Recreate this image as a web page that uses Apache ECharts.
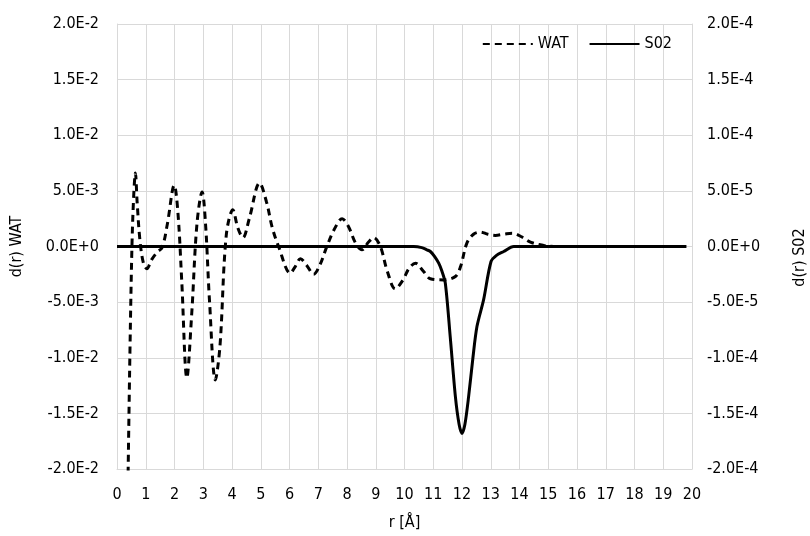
<!DOCTYPE html>
<html>
<head>
<meta charset="utf-8">
<script src="https://cdn.jsdelivr.net/npm/echarts@6/dist/echarts.min.js"></script>
<style>
html,body{margin:0;padding:0;background:#fff;}
#chart{width:810px;height:536px;}
</style>
</head>
<body>
<div id="chart"></div>
<script>
// r [Å] and d(r) for WAT (left axis)
const watR = [0.38, 0.45, 0.52, 0.58, 0.64, 0.70, 0.80, 0.92, 1.04, 1.20, 1.40, 1.57, 1.75, 1.99, 2.12, 2.25, 2.43, 2.60, 2.78, 2.96, 3.08, 3.22, 3.42, 3.58, 3.80, 4.03, 4.20, 4.38, 4.60, 4.96, 5.20, 5.40, 5.62, 6.03, 6.20, 6.38, 6.60, 6.84, 7.05, 7.30, 7.55, 7.83, 8.05, 8.30, 8.52, 8.75, 8.93, 9.16, 9.40, 9.68, 9.95, 10.15, 10.38, 10.65, 10.90, 11.36, 11.77, 11.95, 12.17, 12.40, 12.64, 12.90, 13.16, 13.45, 13.74, 14.05, 14.38, 14.84, 15.20, 16.0, 17.0, 18.0, 19.0, 19.8];
const watD = [-0.0215, -0.0095, 0.0, 0.0045, 0.0066, 0.0040, 0.0005, -0.0015, -0.0020, -0.0012, -0.0005, -0.0001, 0.0020, 0.0055, 0.0030, -0.0030, -0.0118, -0.0060, 0.0020, 0.0049, 0.0020, -0.0050, -0.0120, -0.0090, 0.0010, 0.0033, 0.0017, 0.0008, 0.0025, 0.0057, 0.0040, 0.0017, 0.0, -0.0024, -0.0018, -0.0011, -0.0017, -0.0025, -0.0017, 0.0, 0.0015, 0.0025, 0.0018, 0.0003, -0.0003, 0.0004, 0.0008, 0.0, -0.0022, -0.0038, -0.0030, -0.0020, -0.0015, -0.0022, -0.0029, -0.0030, -0.0027, -0.0018, 0.0003, 0.0011, 0.0013, 0.0011, 0.0010, 0.0011, 0.0012, 0.0009, 0.0004, 0.0001, 0.0, 0.0, 0.0, 0.0, 0.0, 0.0];
// r [Å] and d(r) for S02 (right axis)
const so2R = [0.0, 2.0, 4.0, 6.0, 8.0, 10.0, 10.32, 10.60, 10.78, 10.90, 11.05, 11.19, 11.30, 11.42, 11.59, 11.77, 11.90, 12.00, 12.10, 12.23, 12.38, 12.52, 12.75, 13.01, 13.20, 13.45, 13.80, 15.0, 17.0, 19.8];
const so2D = [0, 0, 0, 0, 0, 0, 0, -0.000001, -0.000003, -0.0000045, -0.000009, -0.000015, -0.000022, -0.000033, -0.000081, -0.000135, -0.000160, -0.000168, -0.000160, -0.000135, -0.000100, -0.000072, -0.000048, -0.0000135, -0.000008, -0.0000045, 0, 0, 0, 0];
// axis ticks
const xTicks = {min: 0, max: 20, interval: 1};
const leftTicks = {min: -0.02, max: 0.02, interval: 0.005};
const rightTicks = {min: -0.0002, max: 0.0002, interval: 0.00005};

const FONT = "'Liberation Sans Narrow', 'DejaVu Sans Condensed', 'Roboto', sans-serif";

function sci(v) {
  if (Math.abs(v) < 1e-12) return '0.0E+0';
  let e = Math.floor(Math.log10(Math.abs(v)) + 1e-9);
  let m = v / Math.pow(10, e);
  return m.toFixed(1) + 'E' + (e >= 0 ? '+' + e : e);
}

const chart = echarts.init(document.getElementById('chart'));
const axisLabelStyle = {color: '#000', fontFamily: FONT, fontSize: 16};
chart.setOption({
  animation: false,
  textStyle: {fontFamily: FONT},
  grid: {left: 117, right: 118, top: 24, bottom: 67, containLabel: false, outerBoundsMode: 'none'},
  legend: {
    top: 31, right: 133,
    itemWidth: 50, itemHeight: 12, itemGap: 20,
    itemStyle: {opacity: 0},
    textStyle: {color: '#000', fontFamily: FONT, fontSize: 16},
    data: ['WAT', 'S02']
  },
  xAxis: {
    type: 'value', min: xTicks.min, max: xTicks.max, interval: xTicks.interval,
    name: 'r [Å]', nameLocation: 'middle', nameGap: 46,
    nameTextStyle: {color: '#000', fontFamily: FONT, fontSize: 16},
    axisLine: {show: true, onZero: false, lineStyle: {color: '#d9d9d9'}},
    axisTick: {show: false},
    axisLabel: Object.assign({margin: 18}, axisLabelStyle),
    splitLine: {show: true, lineStyle: {color: '#d9d9d9', width: 1}}
  },
  yAxis: [
    {
      type: 'value', min: leftTicks.min, max: leftTicks.max, interval: leftTicks.interval,
      name: 'd(r) WAT', nameLocation: 'middle', nameGap: 92,
      nameTextStyle: {color: '#000', fontFamily: FONT, fontSize: 16},
      axisLine: {show: true, lineStyle: {color: '#d9d9d9'}},
      axisTick: {show: false},
      axisLabel: Object.assign({margin: 18, formatter: sci}, axisLabelStyle),
      splitLine: {show: true, lineStyle: {color: '#d9d9d9', width: 1}}
    },
    {
      type: 'value', min: rightTicks.min, max: rightTicks.max, interval: rightTicks.interval,
      position: 'right',
      name: 'd(r) S02', nameLocation: 'middle', nameGap: 100, nameRotate: 90,
      nameTextStyle: {color: '#000', fontFamily: FONT, fontSize: 16, padding: [0, 22, 0, 0]},
      axisLine: {show: true, lineStyle: {color: '#d9d9d9'}},
      axisTick: {show: false},
      axisLabel: Object.assign({margin: 15, formatter: sci}, axisLabelStyle),
      splitLine: {show: false}
    }
  ],
  series: [
    {
      name: 'WAT', type: 'line', yAxisIndex: 0, smooth: 0.35, symbol: 'none', clip: true,
      lineStyle: {color: '#000', width: 3, type: [7, 5]},
      itemStyle: {color: '#000'},
      data: watR.map((r, i) => [r, watD[i]])
    },
    {
      name: 'S02', type: 'line', yAxisIndex: 1, smooth: 0.3, symbol: 'none', clip: true,
      lineStyle: {color: '#000', width: 3, type: 'solid'},
      itemStyle: {color: '#000'},
      data: so2R.map((r, i) => [r, so2D[i]])
    }
  ]
});
</script>
</body>
</html>
